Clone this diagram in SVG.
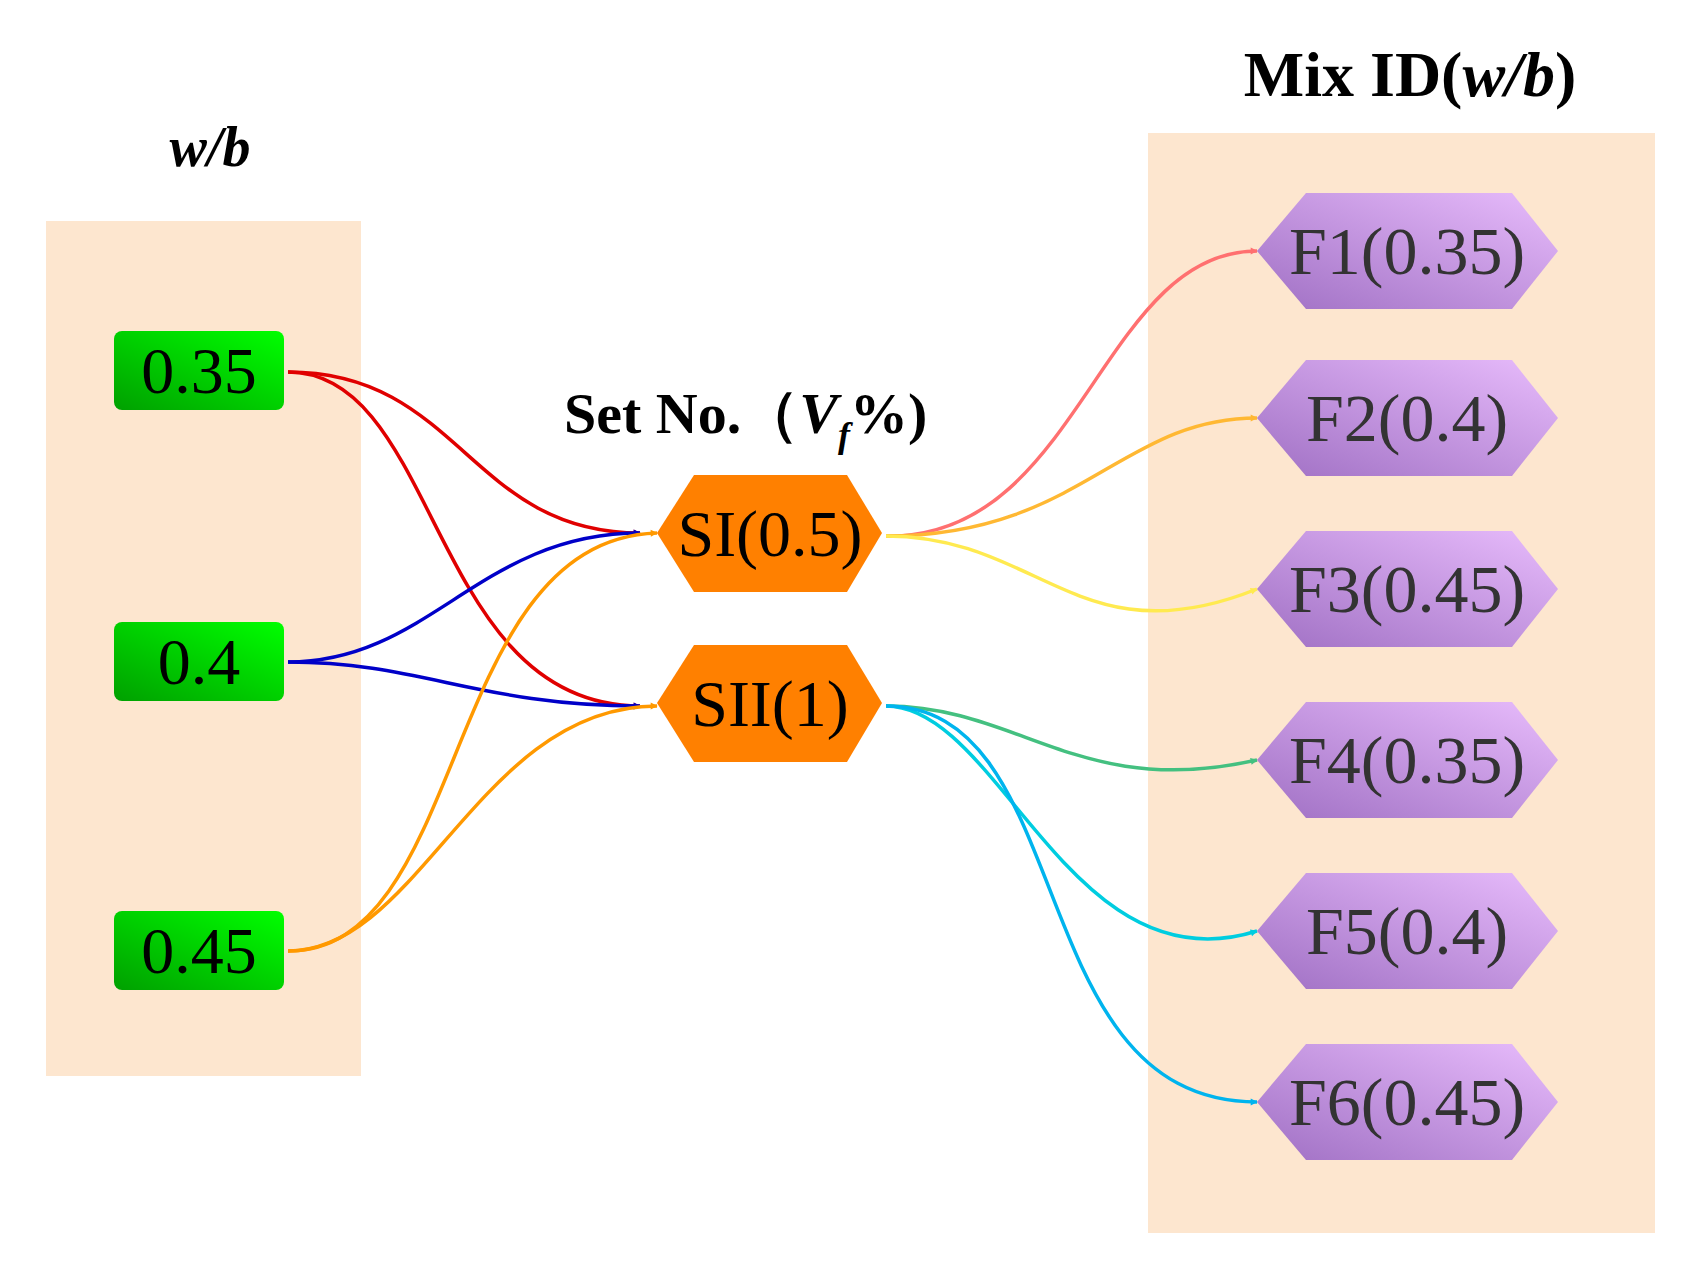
<svg xmlns="http://www.w3.org/2000/svg" width="1697" height="1282" viewBox="0 0 1697 1282">
<style>
.t{font-family:"Liberation Serif",serif}
.g text{font-size:66px;fill:#000;text-anchor:middle}
.h text{font-size:68px;fill:#333;text-anchor:middle}
.e path{fill:none;stroke-width:3.5}
</style>
<defs>
<linearGradient id="gg" x1="0" y1="1" x2="1" y2="0"><stop offset="0" stop-color="#00a000"/><stop offset="1" stop-color="#00ff00"/></linearGradient>
<linearGradient id="pg" x1="0" y1="1" x2="1" y2="0"><stop offset="0" stop-color="#a070c4"/><stop offset="1" stop-color="#e8bcfc"/></linearGradient>
<marker id="a" viewBox="0 0 10 10" refX="9" refY="5" markerWidth="7" markerHeight="7" markerUnits="userSpaceOnUse" orient="auto" style="overflow:visible"><path d="M0,0L10,5L0,10z" fill="context-stroke"/></marker>
<g id="ar"/>
</defs>
<rect x="46" y="221" width="315" height="855" fill="#fde6cf"/>
<rect x="1148" y="133" width="507" height="1100" fill="#fde6cf"/>
<text class="t" x="210" y="166" font-size="56" font-weight="bold" font-style="italic" text-anchor="middle">w/b</text>
<text class="t" x="1410" y="96" font-size="64" font-weight="bold" text-anchor="middle">Mix ID(<tspan font-style="italic">w/b</tspan>)</text>
<text class="t" x="564" y="433" font-size="58" font-weight="bold">Set No.（<tspan font-style="italic">V</tspan><tspan font-style="italic" font-size="36" dy="14">f</tspan><tspan dy="-14">%)</tspan></text>
<g class="e">
<path d="M288,372 C460,372 470,533 640,533" stroke="#e00000" marker-end="url(#a)"/>
<path d="M288,372 C440,372 430,706 640,706" stroke="#e00000" marker-end="url(#a)"/>
<path d="M288,662 C430,662 480,533 640,533" stroke="#0000c8" marker-end="url(#a)"/>
<path d="M288,662 C420,662 480,706 640,706" stroke="#0000c8" marker-end="url(#a)"/>
<path d="M288,951 C470,951 440,540 657,533" stroke="#ff9900" marker-end="url(#a)"/>
<path d="M288,951 C420,951 480,706 657,706" stroke="#ff9900" marker-end="url(#a)"/>
<path d="M886,536 C1080,540 1100,251 1257,251" stroke="#ff7070" marker-end="url(#a)"/>
<path d="M886,536 C1080,536 1120,418 1257,418" stroke="#ffb833" marker-end="url(#a)"/>
<path d="M886,536 C1040,536 1080,660 1257,589" stroke="#ffea50" marker-end="url(#a)"/>
<path d="M886,706 C1020,706 1080,800 1257,760" stroke="#44c080" marker-end="url(#a)"/>
<path d="M886,706 C1000,706 1070,990 1257,931" stroke="#00cde0" marker-end="url(#a)"/>
<path d="M886,706 C1080,706 1020,1102 1257,1102" stroke="#00b4ee" marker-end="url(#a)"/>
</g>
<g class="g t">
<g id="n035"><rect x="114" y="331" width="170" height="79" rx="8" fill="url(#gg)"/><text x="199" y="393">0.35</text></g>
<g id="n04"><rect x="114" y="622" width="170" height="79" rx="8" fill="url(#gg)"/><text x="199" y="684">0.4</text></g>
<g id="n045"><rect x="114" y="911" width="170" height="79" rx="8" fill="url(#gg)"/><text x="199" y="973">0.45</text></g>
</g>
<g class="t" font-size="66" text-anchor="middle">
<g id="SI"><polygon points="657,533 694,475 847,475 882,533 847,592 694,592" fill="#ff8000"/><text x="770" y="556">SI(0.5)</text></g>
<g id="SII"><polygon points="657,703 694,645 847,645 882,703 847,762 694,762" fill="#ff8000"/><text x="770" y="726">SII(1)</text></g>
</g>
<g class="h t">
<g id="F1"><polygon points="1257,251 1306,193 1512,193 1558,251 1512,309 1306,309" fill="url(#pg)"/><text x="1407" y="274">F1(0.35)</text></g>
<g id="F2"><polygon points="1257,418 1306,360 1512,360 1558,418 1512,476 1306,476" fill="url(#pg)"/><text x="1407" y="441">F2(0.4)</text></g>
<g id="F3"><polygon points="1257,589 1306,531 1512,531 1558,589 1512,647 1306,647" fill="url(#pg)"/><text x="1407" y="612">F3(0.45)</text></g>
<g id="F4"><polygon points="1257,760 1306,702 1512,702 1558,760 1512,818 1306,818" fill="url(#pg)"/><text x="1407" y="783">F4(0.35)</text></g>
<g id="F5"><polygon points="1257,931 1306,873 1512,873 1558,931 1512,989 1306,989" fill="url(#pg)"/><text x="1407" y="954">F5(0.4)</text></g>
<g id="F6"><polygon points="1257,1102 1306,1044 1512,1044 1558,1102 1512,1160 1306,1160" fill="url(#pg)"/><text x="1407" y="1125">F6(0.45)</text></g>
</g>
</svg>
